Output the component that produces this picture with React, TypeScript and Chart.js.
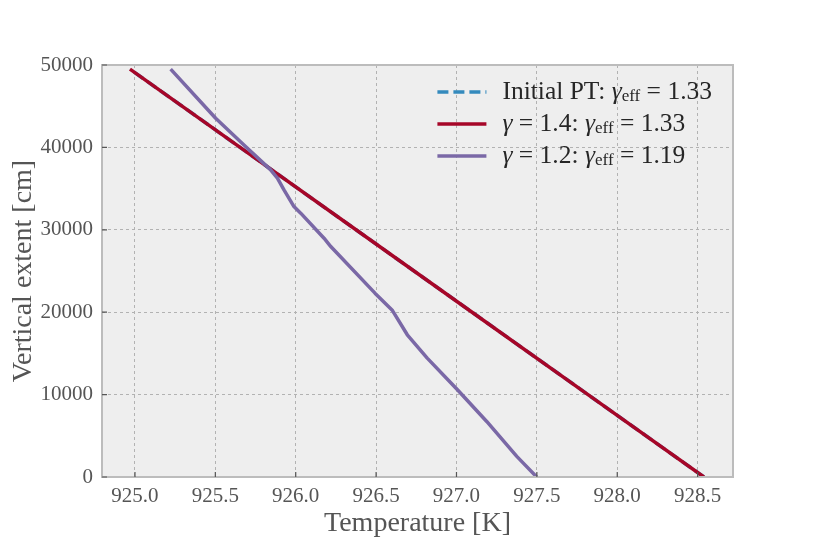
import React, { useEffect, useRef } from "react";
import { Chart, Plugin, registerables } from "chart.js";

Chart.register(...registerables);

// heights [cm] and temperatures [K]
const straightHeights = [0, 10000, 20000, 30000, 40000, 49500];
const initialTemps = [928.539, 927.818, 927.097, 926.375, 925.654, 924.969];
const gamma14Temps = [928.539, 927.818, 927.097, 926.375, 925.654, 924.969];

const gamma12Heights = [
  0, 2500, 6740, 10590, 14430, 17260, 20200, 22310, 27970, 28980, 32020,
  32820, 34840, 36260, 37270, 40300, 43540, 49500,
];
const gamma12Temps = [
  927.499, 927.375, 927.188, 927.006, 926.818, 926.694, 926.602, 926.493,
  926.218, 926.176, 926.031, 925.989, 925.927, 925.886, 925.844, 925.678,
  925.502, 925.222,
];

const xTicks = [925.0, 925.5, 926.0, 926.5, 927.0, 927.5, 928.0, 928.5];
const yTicks = [0, 10000, 20000, 30000, 40000, 50000];

// legend text split in pieces so gamma can be italic and "eff" a subscript
interface piece {
  t: string;
  it?: boolean;
  sub?: boolean;
}
const legendNames: piece[][] = [
  [{ t: "Initial PT: " }, { t: "γ", it: true }, { t: "eff", sub: true }, { t: " = 1.33" }],
  [{ t: "γ", it: true }, { t: " = 1.4: " }, { t: "γ", it: true }, { t: "eff", sub: true }, { t: " = 1.33" }],
  [{ t: "γ", it: true }, { t: " = 1.2: " }, { t: "γ", it: true }, { t: "eff", sub: true }, { t: " = 1.19" }],
];

const COLORS = ["#348ABD", "#A60628", "#7A68A6"];
const SERIF = '"Liberation Serif", "DejaVu Serif", serif';
const TEXT = "#555555";

const toPoints = (xs: number[], ys: number[]) =>
  xs.map((x, i) => ({ x: x, y: ys[i] }));

const pieceFont = (p: piece) =>
  `${p.it ? "italic " : ""}${p.sub ? 17 : 25.5}px ${SERIF}`;

// background, frame, inward ticks and the legend
const decor: Plugin = {
  id: "decor",
  beforeDraw(chart) {
    const { ctx, chartArea: a } = chart;
    ctx.save();
    ctx.fillStyle = "#eeeeee";
    ctx.fillRect(a.left, a.top, a.right - a.left, a.bottom - a.top);
    ctx.restore();
  },
  afterDraw(chart) {
    const { ctx, chartArea: a } = chart;
    const xs = chart.scales.x;
    const ys = chart.scales.y;
    ctx.save();
    ctx.strokeStyle = "#bcbcbc";
    ctx.lineWidth = 2;
    ctx.strokeRect(a.left, a.top, a.right - a.left, a.bottom - a.top);

    ctx.strokeStyle = TEXT;
    ctx.lineWidth = 1.2;
    ctx.beginPath();
    xTicks.forEach((v) => {
      const px = xs.getPixelForValue(v);
      ctx.moveTo(px, a.bottom);
      ctx.lineTo(px, a.bottom - 5);
    });
    yTicks.forEach((v) => {
      const py = ys.getPixelForValue(v);
      ctx.moveTo(a.left, py);
      ctx.lineTo(a.left + 5, py);
    });
    ctx.stroke();

    // legend
    const widths = legendNames.map((parts) =>
      parts.reduce((w, p) => {
        ctx.font = pieceFont(p);
        return w + ctx.measureText(p.t).width;
      }, 0)
    );
    const maxW = Math.max(...widths);
    const textX = a.right - 21 - maxW;
    ctx.textBaseline = "middle";
    ctx.textAlign = "left";
    legendNames.forEach((parts, i) => {
      const y = a.top + 27 + i * 32;
      ctx.strokeStyle = COLORS[i];
      ctx.lineWidth = 3.5;
      ctx.setLineDash(i === 0 ? [11, 5] : []);
      ctx.beginPath();
      ctx.moveTo(textX - 65, y);
      ctx.lineTo(textX - 16, y);
      ctx.stroke();
      ctx.setLineDash([]);
      let x = textX;
      ctx.fillStyle = "#262626";
      parts.forEach((p) => {
        ctx.font = pieceFont(p);
        ctx.fillText(p.t, x, p.sub ? y + 5 : y);
        x += ctx.measureText(p.t).width;
      });
    });
    ctx.restore();
  },
};

const App = () => {
  const canvasRef = useRef<HTMLCanvasElement | null>(null);

  useEffect(() => {
    if (!canvasRef.current) return;
    const chart = new Chart(canvasRef.current, {
      type: "scatter",
      data: {
        datasets: [
          {
            label: "Initial PT: γ_eff = 1.33",
            data: toPoints(initialTemps, straightHeights),
            borderColor: COLORS[0],
            borderDash: [11, 5],
            order: 2,
          },
          {
            label: "γ = 1.4: γ_eff = 1.33",
            data: toPoints(gamma14Temps, straightHeights),
            borderColor: COLORS[1],
            order: 1,
          },
          {
            label: "γ = 1.2: γ_eff = 1.19",
            data: toPoints(gamma12Temps, gamma12Heights),
            borderColor: COLORS[2],
            order: 0,
          },
        ],
      },
      options: {
        animation: false,
        responsive: false,
        showLine: true,
        elements: {
          point: { radius: 0, hoverRadius: 0 },
          line: { borderWidth: 3.5, tension: 0, borderCapStyle: "butt", borderJoinStyle: "round" },
        },
        layout: { padding: { top: 65, right: 81, left: 0, bottom: 0 } },
        plugins: { legend: { display: false }, tooltip: { enabled: false } },
        scales: {
          x: {
            type: "linear",
            min: 924.795,
            max: 928.72,
            afterBuildTicks: (s) => {
              s.ticks = xTicks.map((v) => ({ value: v }));
            },
            afterFit: (s) => {
              s.height = 66;
            },
            grid: { color: "#b2b2b2", lineWidth: 1, drawTicks: false },
            border: { display: false, dash: [3, 3] },
            ticks: {
              autoSkip: false,
              maxRotation: 0,
              padding: 7,
              color: TEXT,
              font: { family: SERIF, size: 21 },
              callback: (v) => Number(v).toFixed(1),
            },
            title: {
              display: true,
              text: "Temperature [K]",
              color: TEXT,
              font: { family: SERIF, size: 28 },
              padding: { top: 0, bottom: 3 },
            },
          },
          y: {
            type: "linear",
            min: 0,
            max: 50000,
            afterBuildTicks: (s) => {
              s.ticks = yTicks.map((v) => ({ value: v }));
            },
            afterFit: (s) => {
              s.width = 102;
            },
            grid: { color: "#b2b2b2", lineWidth: 1, drawTicks: false },
            border: { display: false, dash: [3, 3] },
            ticks: {
              autoSkip: false,
              padding: 9,
              color: TEXT,
              font: { family: SERIF, size: 21 },
              callback: (v) => String(v),
            },
            title: {
              display: true,
              text: "Vertical extent [cm]",
              color: TEXT,
              font: { family: SERIF, size: 28 },
              padding: { top: 7, bottom: 0 },
            },
          },
        },
      },
      plugins: [decor],
    });
    return () => chart.destroy();
  }, []);

  return (
    <div style={{ position: "fixed", left: 0, top: 0, width: 814, height: 543, background: "#fff" }}>
      <canvas ref={canvasRef} width={814} height={543} style={{ width: 814, height: 543 }} />
    </div>
  );
};

export default App;
